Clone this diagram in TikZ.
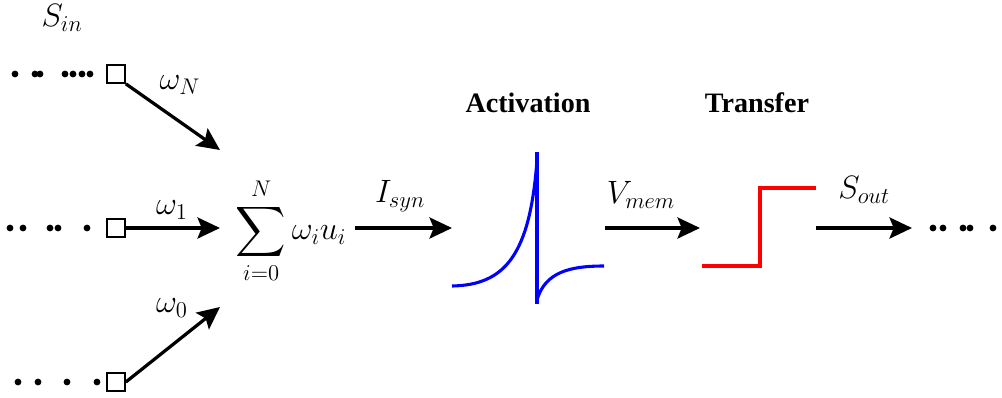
\RequirePackage{fix-cm}
\documentclass[tikz,border=0pt]{standalone}
\usepackage{amsmath}
\usepackage{fontspec}
\newfontfamily\titlefont{Liberation Serif}
\usetikzlibrary{arrows.meta,positioning,calc}
\definecolor{SpikeBlue}{RGB}{0,0,255}
\definecolor{StepRed}{RGB}{255,0,0}
\tikzset{
  wire/.style={->,line width=2.3pt},
  inbox/.style={draw,line width=1.5pt,minimum size=12.5pt,inner sep=0pt},
  lbl/.style={font=\fontsize{23}{28}\selectfont},
  title/.style={font=\titlefont\fontsize{20}{24}\selectfont\bfseries}
}

\begin{document}
\begin{tikzpicture}[x=0.025cm,y=-0.025cm,>={Stealth[length=16pt,width=15pt,inset=3pt]}]
\useasboundingbox (0,0) rectangle (1002,397);
% inputs
\node[lbl] (sin) at (62,18) {$S_{in}$};
\node[inbox] (inN) at (116,74) {};
\node[inbox] (in1) at (116,228) {};
\node[inbox] (in0) at (116,382) {};
\foreach \x in {15,35,40,65,73,82,90} \fill (\x,74) circle (3.4);
\foreach \x in {10,23,50,58,87} \fill (\x,228) circle (3.4);
\foreach \x in {18,38,67,97} \fill (\x,382) circle (3.4);
% weights
\coordinate (wN) at (220,150);
\coordinate (w1) at (220,228);
\coordinate (w0) at (220,307);
\draw[wire] (inN.south east) -- (wN);
\draw[wire] (in1.east) -- (w1);
\draw[wire] (in0.east) -- (w0);
\node[lbl] at (180,85) {$\omega_N$};
\node[lbl] at (172,210) {$\omega_1$};
\node[lbl] at (172,308) {$\omega_0$};
% sum
\node[lbl] (sum) at (291,231) {$\displaystyle\sum_{i=0}^{N}\omega_i u_i$};
\coordinate (isynA) at (355,228);
\coordinate (isynB) at (452,228);
\draw[wire] (isynA) -- (isynB);
\node[lbl] at (400,196) {$I_{syn}$};
% activation
\node[title] (act) at (528,103) {Activation};
\draw[SpikeBlue,line width=2.2pt] (452,286) .. controls (505,285) and (530,255) .. (537,160);
\draw[SpikeBlue,line width=2.2pt] (537,152) -- (537,304);
\draw[SpikeBlue,line width=2.2pt] (537,300) .. controls (545,272) and (570,266) .. (604,266);
\coordinate (vmemA) at (605,228);
\coordinate (vmemB) at (700,228);
\draw[wire] (vmemA) -- (vmemB);
\node[lbl] at (641,195) {$V_{mem}$};
% transfer
\node[title] (tra) at (757,103) {Transfer};
\draw[StepRed,line width=2.2pt] (702,266) -- (760,266) -- (760,188) -- (816,188);
\coordinate (soutA) at (816,228);
\coordinate (soutB) at (912,228);
\draw[wire] (soutA) -- (soutB);
\node[lbl] at (864,190) {$S_{out}$};
\foreach \x in {933,943,963,970,993} \fill (\x,228) circle (3.4);
\end{tikzpicture}
\end{document}
